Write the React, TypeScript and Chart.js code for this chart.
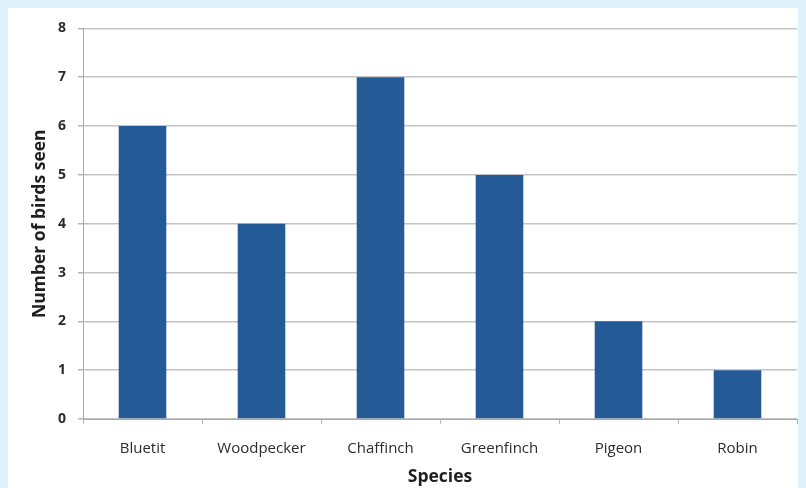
import React, { useEffect, useRef } from "react";
import { Chart, registerables } from "chart.js";

Chart.register(...registerables);

const categories = ["Bluetit", "Woodpecker", "Chaffinch", "Greenfinch", "Pigeon", "Robin"];
const birdsSeen = [6, 4, 7, 5, 2, 1];
const yTitle = "Number of birds seen";
const xTitle = "Species";

const FONT = "'Open Sans', Lato, sans-serif";

export default function App() {
  const ref = useRef<HTMLCanvasElement | null>(null);

  useEffect(() => {
    document.body.style.background = "#dff1fb";
    document.body.style.overflow = "hidden";
    const canvas = ref.current!;
    const chart = new Chart(canvas, {
      type: "bar",
      data: {
        labels: categories,
        datasets: [
          {
            data: birdsSeen,
            backgroundColor: "#245b97",
            borderWidth: 0,
            barPercentage: 0.4,
            categoryPercentage: 1,
          },
        ],
      },
      options: {
        responsive: false,
        animation: false,
        devicePixelRatio: 1,
        layout: { padding: { left: 0, top: 19, right: 9, bottom: 0 } },
        plugins: { legend: { display: false }, tooltip: { enabled: false } },
        scales: {
          x: {
            grid: {
              display: true,
              drawOnChartArea: false,
              drawTicks: true,
              tickLength: 5,
              color: "#b5b5b5",
            },
            border: { display: true, color: "#a8a8a8", width: 1 },
            ticks: {
              padding: 16,
              color: "#2b2b2b",
              font: { family: FONT, size: 15 },
            },
            title: {
              display: true,
              text: xTitle,
              color: "#1f1f1f",
              padding: { top: 0, bottom: 0 },
              font: { family: FONT, size: 17.5, weight: "bold" },
            },
            afterFit: (s: any) => {
              s.height = 69;
            },
          },
          y: {
            min: 0,
            max: 8,
            ticks: {
              stepSize: 1,
              padding: 12,
              color: "#2b2b2b",
              font: { family: FONT, size: 14, weight: "bold" },
            },
            grid: {
              color: "#c4c4c4",
              lineWidth: 1.5,
              tickLength: 5,
              tickColor: "#b5b5b5",
            },
            border: { display: true, color: "#a8a8a8", width: 1 },
            title: {
              display: true,
              text: yTitle,
              color: "#1f1f1f",
              padding: { top: 21.5, bottom: 0 },
              font: { family: FONT, size: 17.5, weight: "bold" },
            },
            afterFit: (s: any) => {
              s.width = 75;
            },
          },
        },
      },
      plugins: [
        {
          id: "whiteBg",
          beforeDraw: (c: any) => {
            const ctx = c.ctx;
            ctx.save();
            ctx.fillStyle = "#ffffff";
            ctx.fillRect(0, 0, c.width, c.height);
            ctx.restore();
          },
        },
      ],
    });
    return () => chart.destroy();
  }, []);

  return (
    <canvas ref={ref} width={798} height={480} style={{ display: "block", width: 798, height: 480 }} />
  );
}
